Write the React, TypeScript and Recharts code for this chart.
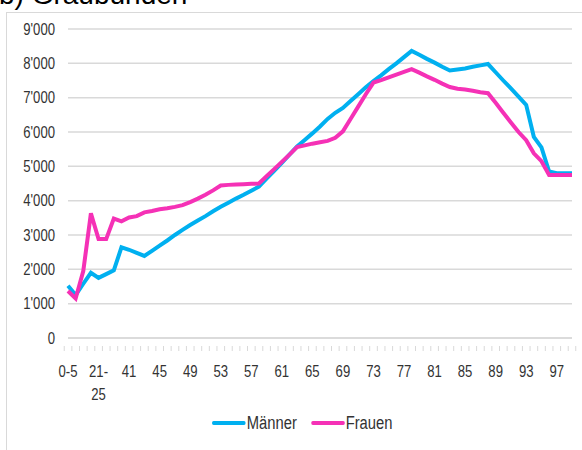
import { CartesianGrid, Line, LineChart, XAxis, YAxis } from "recharts";

// Age groups (first eight are 5-year bands, then single years)
const AGES = [
  "0-5", "6-10", "11-15", "16-20", "21-25", "26-30", "31-35", "36-40",
  "41", "42", "43", "44", "45", "46", "47", "48", "49", "50",
  "51", "52", "53", "54", "55", "56", "57", "58", "59", "60",
  "61", "62", "63", "64", "65", "66", "67", "68", "69", "70",
  "71", "72", "73", "74", "75", "76", "77", "78", "79", "80",
  "81", "82", "83", "84", "85", "86", "87", "88", "89", "90",
  "91", "92", "93", "94", "95", "96", "97", "98", "99",
];

const MAENNER = [
  1520, 1250, 1580, 1900, 1750, 1860, 1970, 2640,
  2570, 2480, 2390, 2540, 2690, 2840, 3000, 3150,
  3290, 3420, 3550, 3690, 3820, 3940, 4060, 4170,
  4290, 4410, 4640, 4870, 5100, 5340, 5580, 5770,
  5960, 6160, 6380, 6560, 6700, 6900, 7100, 7300,
  7480, 7650, 7830, 8000, 8180, 8360, 8250, 8130,
  8020, 7900, 7790, 7820, 7850, 7900, 7940, 7980,
  7740, 7500, 7270, 7030, 6790, 5860, 5550, 4850,
  4800, 4800, 4800,
];

const FRAUEN = [
  1370, 1150, 1950, 3630, 2880, 2880, 3480, 3400,
  3510, 3550, 3660, 3700, 3750, 3780, 3820, 3870,
  3960, 4060, 4170, 4300, 4440, 4460, 4470, 4480,
  4490, 4500, 4710, 4920, 5130, 5340, 5560, 5610,
  5660, 5700, 5740, 5830, 6020, 6380, 6740, 7100,
  7440, 7510, 7590, 7670, 7750, 7830, 7730, 7620,
  7520, 7410, 7310, 7260, 7240, 7200, 7160, 7130,
  6850, 6560, 6280, 6000, 5760, 5380, 5150, 4750,
  4750, 4750, 4750,
];

const Y_TICKS = [0, 1000, 2000, 3000, 4000, 5000, 6000, 7000, 8000, 9000];

const COLORS = {
  maenner: "#00b0f0",
  frauen: "#f531b6",
  grid: "#d9d9d9",
  text: "#333333",
};

// no narrow font installed, so Arial-metric text is squeezed horizontally
const FONT = "'Liberation Sans', Arial, sans-serif";
const SQUEEZE = 0.82;

const PLOT_LEFT = 68;
const PLOT_RIGHT = 572;
const BAND = (PLOT_RIGHT - PLOT_LEFT) / AGES.length;

const data = AGES.map((age, i) => ({
  age,
  Männer: MAENNER[i],
  Frauen: FRAUEN[i],
}));

function formatThousands(v: number) {
  return String(v).replace(/\B(?=(\d{3})+(?!\d))/g, "'");
}

function NarrowText({ x, y, anchor, children }: any) {
  return (
    <text
      transform={`translate(${x},${y}) scale(${SQUEEZE},1)`}
      textAnchor={anchor}
      fill={COLORS.text}
      fontSize={16}
      fontFamily={FONT}
    >
      {children}
    </text>
  );
}

// Excel-style tick: a small mark on every category boundary, a label every 4th
function AgeTick(props: any) {
  const { x, y, payload, index } = props;
  const label: string = payload.value;
  const showLabel = index % 4 === 0;
  const cut = label.indexOf("-") + 1;
  const lines = cut > 0 && label.length > 3 ? [label.slice(0, cut), label.slice(cut)] : [label];
  return (
    <g>
      <line x1={x - BAND / 2} x2={x - BAND / 2} y1={y} y2={y + 5} stroke={COLORS.grid} strokeWidth={1} />
      {index === AGES.length - 1 && (
        <line x1={x + BAND / 2} x2={x + BAND / 2} y1={y} y2={y + 5} stroke={COLORS.grid} strokeWidth={1} />
      )}
      {showLabel &&
        lines.map((t, k) => (
          <NarrowText key={k} x={x} y={y + 31 + k * 22.7} anchor="middle">
            {t}
          </NarrowText>
        ))}
    </g>
  );
}

function ValueTick(props: any) {
  const { x, y, payload } = props;
  return (
    <NarrowText x={x} y={y + 5.5} anchor="end">
      {formatThousands(payload.value)}
    </NarrowText>
  );
}

function LegendItem({ color, label }: { color: string; label: string }) {
  return (
    <span style={{ display: "inline-flex", alignItems: "center", marginRight: 14 / SQUEEZE }}>
      <span style={{ width: 34 / SQUEEZE, height: 4, background: color, borderRadius: 2, marginRight: 1 }} />
      <span>{label}</span>
    </span>
  );
}

export default function App() {
  return (
    <div
      style={{
        position: "absolute",
        left: 0,
        top: 0,
        width: 582,
        height: 450,
        overflow: "hidden",
        background: "#fff",
      }}
    >
      <div
        style={{
          position: "absolute",
          left: -1,
          top: -19,
          fontFamily: FONT,
          fontSize: 28,
          lineHeight: "28px",
          color: "#000",
          whiteSpace: "nowrap",
        }}
      >
        b) Graubünden
      </div>
      <div
        style={{
          position: "absolute",
          left: 6,
          top: 12,
          width: 600,
          height: 460,
          border: "1.5px solid #d9d9d9",
          boxSizing: "border-box",
        }}
      />
      <div style={{ position: "absolute", left: 0, top: 0 }}>
        <LineChart
          width={582}
          height={450}
          data={data}
          margin={{ top: 29, right: 582 - PLOT_RIGHT, left: 0, bottom: 52 }}
        >
          <CartesianGrid vertical={false} stroke={COLORS.grid} strokeWidth={1.5} />
          <XAxis
            dataKey="age"
            interval={0}
            height={60}
            tickLine={false}
            axisLine={{ stroke: COLORS.grid, strokeWidth: 1.5 }}
            tick={<AgeTick />}
          />
          <YAxis
            width={PLOT_LEFT}
            domain={[0, 9000]}
            ticks={Y_TICKS}
            interval={0}
            axisLine={false}
            tickLine={false}
            tickSize={0}
            tickMargin={13}
            tick={<ValueTick />}
          />
          <Line
            type="linear"
            dataKey="Männer"
            stroke={COLORS.maenner}
            strokeWidth={4}
            dot={false}
            isAnimationActive={false}
          />
          <Line
            type="linear"
            dataKey="Frauen"
            stroke={COLORS.frauen}
            strokeWidth={4}
            dot={false}
            isAnimationActive={false}
          />
        </LineChart>
      </div>
      <div
        style={{
          position: "absolute",
          left: 212,
          top: 412,
          display: "flex",
          fontFamily: FONT,
          fontSize: 18,
          lineHeight: "22px",
          color: COLORS.text,
          whiteSpace: "nowrap",
          transform: `scaleX(${SQUEEZE})`,
          transformOrigin: "left center",
        }}
      >
        <LegendItem color={COLORS.maenner} label="Männer" />
        <LegendItem color={COLORS.frauen} label="Frauen" />
      </div>
    </div>
  );
}
